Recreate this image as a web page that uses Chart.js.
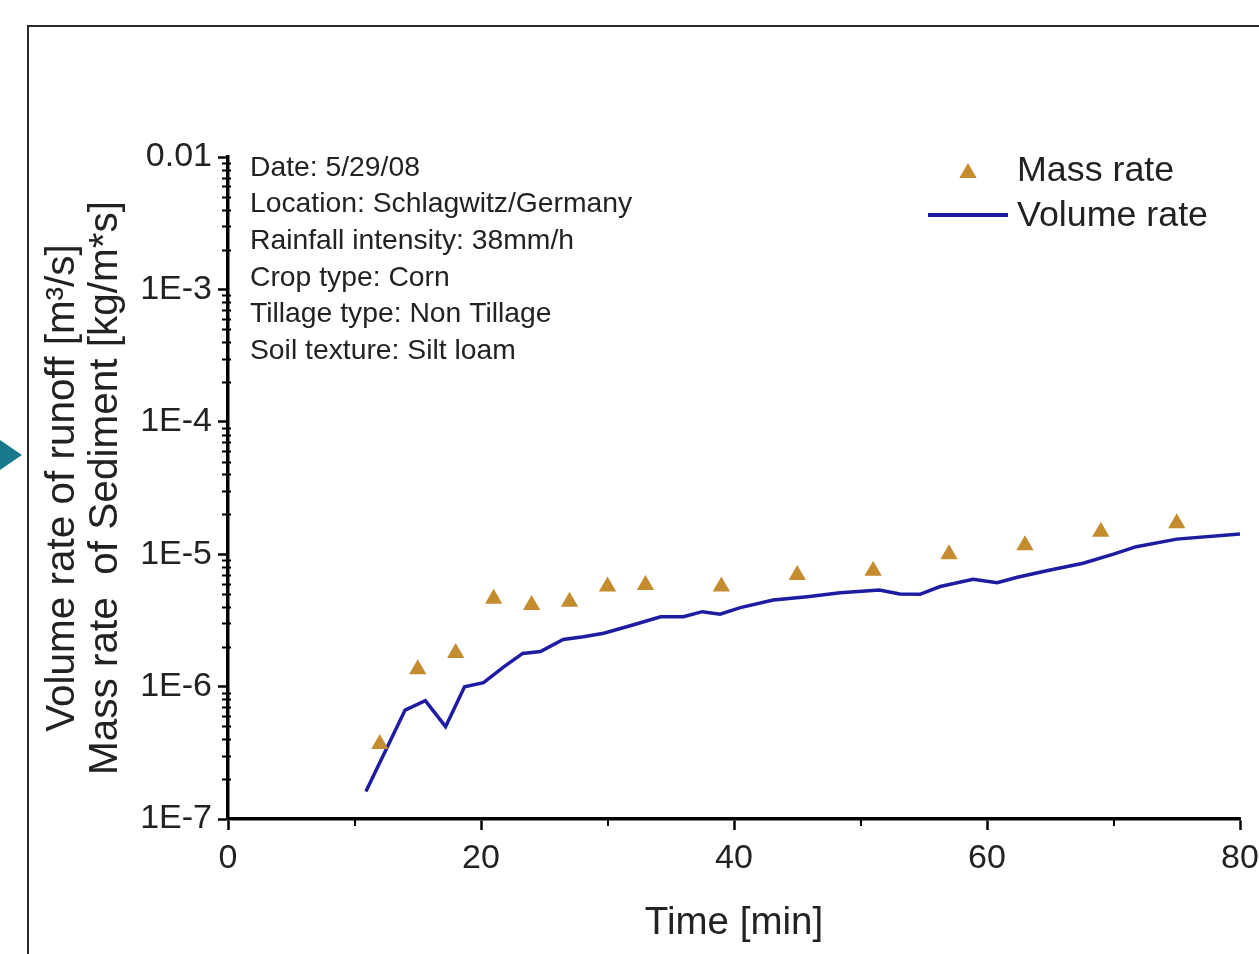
<!DOCTYPE html>
<html>
<head>
<meta charset="utf-8">
<script src="https://cdn.jsdelivr.net/npm/chart.js@4.4.1/dist/chart.umd.min.js"></script>
<style>
  html, body { margin: 0; padding: 0; background: #fff; }
  body { width: 1259px; height: 954px; position: relative; overflow: hidden; }
  #frame { position: absolute; left: 27px; top: 25px; width: 1300px; height: 1000px;
           border: 2px solid #2a2a2a; box-sizing: border-box; background: #fff; }
  #arrow { position: absolute; left: 0; top: 440px; width: 0; height: 0;
           border-top: 15px solid transparent; border-bottom: 15px solid transparent;
           border-left: 22px solid #17798b; }
  #wrap { position: absolute; left: 0; top: 0; width: 1259px; height: 954px; }
</style>
</head>
<body>
<div id="frame"></div>
<div id="arrow"></div>
<div id="wrap"><canvas id="c" width="1259" height="954"></canvas></div>
<script>
// ---- data ----
const massTime = [12, 15, 18, 21, 24, 27, 30, 33, 39, 45, 51, 57, 63, 69, 75];
const massRate = [3.68e-7, 1.35e-6, 1.79e-6, 4.6e-6, 4.13e-6, 4.38e-6, 5.69e-6, 5.85e-6, 5.69e-6, 6.97e-6, 7.5e-6, 1.0e-5, 1.17e-5, 1.48e-5, 1.71e-5];

const volTime = [10.9, 14.0, 15.6, 17.2, 18.7, 20.2, 21.8, 23.3, 24.7, 26.5, 28.1, 29.7, 32.0, 34.2, 36.0, 37.5, 38.9, 40.5, 43.1, 45.8, 48.4, 51.5, 53.1, 54.7, 56.3, 58.9, 60.8, 62.4, 65.0, 67.6, 70.0, 71.8, 75.0, 80.0];
const volRate = [1.61e-7, 6.65e-7, 7.82e-7, 4.98e-7, 9.97e-7, 1.07e-6, 1.41e-6, 1.78e-6, 1.84e-6, 2.27e-6, 2.38e-6, 2.53e-6, 2.92e-6, 3.37e-6, 3.37e-6, 3.68e-6, 3.52e-6, 3.95e-6, 4.51e-6, 4.78e-6, 5.12e-6, 5.37e-6, 5.0e-6, 4.98e-6, 5.70e-6, 6.46e-6, 6.09e-6, 6.70e-6, 7.60e-6, 8.54e-6, 1.0e-5, 1.14e-5, 1.30e-5, 1.42e-5];

const seriesNames = ['Mass rate', 'Volume rate'];

const xTicks = [0, 10, 20, 30, 40, 50, 60, 70, 80];
const xTickLabels = ['0', '', '20', '', '40', '', '60', '', '80'];

const yMajorTicks = [1e-7, 1e-6, 1e-5, 1e-4, 1e-3, 1e-2];
const yTickLabels = ['1E-7', '1E-6', '1E-5', '1E-4', '1E-3', '0.01'];
const yMinorMultiples = [2, 3, 4, 5, 6, 7, 8, 9];

const annotationLines = [
  'Date: 5/29/08',
  'Location: Schlagwitz/Germany',
  'Rainfall intensity: 38mm/h',
  'Crop type: Corn',
  'Tillage type: Non Tillage',
  'Soil texture: Silt loam'
];

const xTitle = 'Time [min]';
const yTitle = ['Volume rate of runoff [m\u00B3/s]', 'Mass rate  of Sediment [kg/m*s]'];

// ---- styles ----
const FONT = "'Liberation Sans', Arial, sans-serif";
const massColor = '#c48b2f';
const volColor = '#1d1ca3';
const textColor = '#222';

const massData = massTime.map((t, i) => ({ x: t, y: massRate[i] }));
const volData = volTime.map((t, i) => ({ x: t, y: volRate[i] }));

function yTickList() {
  const out = [];
  for (let i = 0; i < yMajorTicks.length; i++) {
    out.push({ value: yMajorTicks[i], major: true });
    if (i < yMajorTicks.length - 1) {
      for (const m of yMinorMultiples) out.push({ value: m * yMajorTicks[i], major: false });
    }
  }
  return out;
}

const extras = {
  id: 'extras',
  afterDraw(chart) {
    const ctx = chart.ctx;
    const xs = chart.scales.x, ys = chart.scales.y;
    ctx.save();
    // minor ticks
    ctx.strokeStyle = '#000';
    ctx.lineWidth = 2;
    ys.ticks.forEach(t => {
      if (t.major) return;
      const py = Math.round(ys.getPixelForValue(t.value)) + 0.5;
      ctx.beginPath(); ctx.moveTo(xs.left - 6, py); ctx.lineTo(xs.left + 3, py); ctx.stroke();
    });
    xs.ticks.forEach(t => {
      if (t.major) return;
      const px = Math.round(xs.getPixelForValue(t.value));
      ctx.beginPath(); ctx.moveTo(px, ys.bottom); ctx.lineTo(px, ys.bottom + 7); ctx.stroke();
    });
    // annotation text
    ctx.fillStyle = textColor;
    ctx.font = '28.3px ' + FONT;
    ctx.textAlign = 'left';
    ctx.textBaseline = 'middle';
    annotationLines.forEach((s, i) => {
      ctx.fillText(s, 250, 168 + i * 36.6);
    });
    // legend
    ctx.font = '35.8px ' + FONT;
    const tx = 968, ty = 173, r = 10;
    ctx.fillStyle = massColor;
    ctx.beginPath();
    ctx.moveTo(tx, ty - r);
    ctx.lineTo(tx + r * Math.sin(2 * Math.PI / 3), ty + r / 2);
    ctx.lineTo(tx - r * Math.sin(2 * Math.PI / 3), ty + r / 2);
    ctx.closePath(); ctx.fill();
    ctx.strokeStyle = volColor; ctx.lineWidth = 4;
    ctx.beginPath(); ctx.moveTo(928, 215); ctx.lineTo(1008, 215); ctx.stroke();
    ctx.fillStyle = textColor;
    ctx.fillText(seriesNames[0], 1017, 171);
    ctx.fillText(seriesNames[1], 1017, 216);
    ctx.restore();
  }
};

new Chart(document.getElementById('c'), {
  type: 'scatter',
  data: {
    datasets: [
      {
        label: seriesNames[0],
        data: massData,
        pointStyle: 'triangle',
        pointRadius: 10,
        pointHoverRadius: 10,
        backgroundColor: massColor,
        borderColor: massColor,
        borderWidth: 0,
        showLine: false
      },
      {
        label: seriesNames[1],
        data: volData,
        showLine: true,
        pointRadius: 0,
        borderColor: volColor,
        borderWidth: 3.5,
        tension: 0,
        fill: false
      }
    ]
  },
  options: {
    responsive: false,
    animation: false,
    events: [],
    layout: { padding: { top: 157, right: 19, left: 0, bottom: 0 } },
    plugins: { legend: { display: false }, tooltip: { enabled: false } },
    scales: {
      x: {
        type: 'linear',
        min: 0, max: 80,
        afterBuildTicks: (s) => { s.ticks = xTicks.map((v, i) => ({ value: v, major: xTickLabels[i] !== '' })); },
        afterFit: (s) => { s.height = 135; s.paddingLeft = 0; s.paddingRight = 0; },
        border: { display: true, color: '#000', width: 3.5 },
        grid: {
          drawOnChartArea: false, drawTicks: true, tickLength: 11,
          tickColor: (c) => (c.tick && c.tick.major) ? '#000' : 'rgba(0,0,0,0)',
          tickWidth: 2.5
        },
        ticks: {
          autoSkip: false, maxRotation: 0, padding: 8,
          color: textColor,
          font: { family: FONT, size: 34 },
          callback: (v) => { const i = xTicks.indexOf(v); return i >= 0 ? xTickLabels[i] : ''; }
        },
        title: {
          display: true, text: xTitle, color: textColor,
          font: { family: FONT, size: 38.5 },
          padding: { top: 0, bottom: 8 }
        }
      },
      y: {
        type: 'logarithmic',
        min: 1e-7, max: 1e-2,
        afterBuildTicks: (s) => { s.ticks = yTickList(); },
        afterFit: (s) => { s.width = 228; s.paddingTop = 0; s.paddingBottom = 0; },
        border: { display: true, color: '#000', width: 3.5 },
        grid: {
          drawOnChartArea: false, drawTicks: true, tickLength: 10,
          tickColor: (c) => (c.tick && c.tick.major) ? '#000' : 'rgba(0,0,0,0)',
          tickWidth: 2.5
        },
        ticks: {
          autoSkip: false, padding: 6,
          color: textColor,
          font: { family: FONT, size: 34 },
          callback: (v) => {
            for (let i = 0; i < yMajorTicks.length; i++) {
              if (Math.abs(v - yMajorTicks[i]) / yMajorTicks[i] < 1e-6) return yTickLabels[i];
            }
            return '';
          }
        },
        title: {
          display: true, text: yTitle, color: textColor,
          font: { family: FONT, size: 40.5, lineHeight: '43px' },
          padding: { top: 41, bottom: 0 }
        }
      }
    }
  },
  plugins: [extras]
});
</script>
</body>
</html>
